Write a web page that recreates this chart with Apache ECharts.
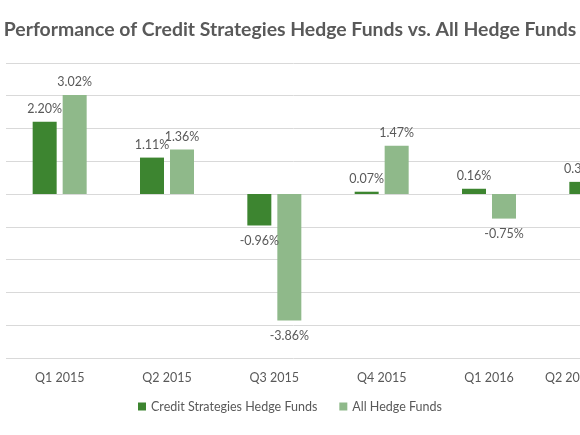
<!DOCTYPE html>
<html lang="en">
<head>
    <meta charset="UTF-8">
    <title>Credit Strategies Hedge Funds</title>
    <style>
        html, body { margin: 0; padding: 0; background: #fff; }
        #chart { width: 580px; height: 435px; }
    </style>
    <script src="https://cdn.jsdelivr.net/npm/echarts@6/dist/echarts.min.js"></script>
</head>
<body>
    <div id="chart"></div>
    <script>
        // 数据
        var quarters = ['Q1 2015', 'Q2 2015', 'Q3 2015', 'Q4 2015', 'Q1 2016', 'Q2 2016'];
        var creditFunds = [2.20, 1.11, -0.96, 0.07, 0.16, 0.37];
        var allFunds = [3.02, 1.36, -3.86, 1.47, -0.75, 2.15];

        var textColor = '#595959';
        var fontName = 'Lato';

        function withLabels(values) {
            return values.map(function (v) {
                return {
                    value: v,
                    label: v < 0 ? {position: 'bottom', distance: 9} : {position: 'top', distance: 6}
                };
            });
        }

        // 最后一个季度的标签在图外被裁掉, 往左挪一点
        var categoryData = quarters.map(function (q, i) {
            if (i === quarters.length - 1) {
                return {value: q, textStyle: {align: 'right', padding: [0, 2, 0, 0]}};
            }
            return q;
        });

        var chart = echarts.init(document.getElementById('chart'), null, {renderer: 'canvas'});
        chart.setOption({
            animation: false,
            title: {
                text: 'Performance of Credit Strategies Hedge Funds vs. All Hedge Funds',
                left: 'center',
                top: 15,
                textStyle: {color: textColor, fontSize: 19.4, fontWeight: 'bold', fontFamily: fontName}
            },
            legend: {
                bottom: 17,
                left: 'center',
                itemWidth: 8,
                itemHeight: 8,
                itemGap: 22,
                icon: 'rect',
                textStyle: {color: textColor, fontSize: 12.5, fontFamily: fontName}
            },
            grid: {left: 6, width: 644, top: 62.8, bottom: 77, outerBoundsMode: 'none', containLabel: false},
            xAxis: {
                type: 'category',
                data: categoryData,
                axisLine: {show: false},
                axisTick: {show: false},
                axisLabel: {color: textColor, fontSize: 12.5, fontFamily: fontName, margin: 13}
            },
            yAxis: {
                type: 'value',
                min: -5,
                max: 4,
                interval: 1,
                axisLabel: {show: false},
                axisLine: {show: false},
                axisTick: {show: false},
                splitLine: {lineStyle: {color: '#d9d9d9', width: 1}}
            },
            series: [
                {
                    name: 'Credit Strategies Hedge Funds',
                    type: 'bar',
                    barWidth: 24,
                    barGap: '25%',
                    itemStyle: {color: '#3d8530'},
                    label: {
                        show: true,
                        color: textColor,
                        fontSize: 12.5,
                        fontFamily: fontName,
                        formatter: function (p) { return p.value.toFixed(2) + '%'; }
                    },
                    data: withLabels(creditFunds)
                },
                {
                    name: 'All Hedge Funds',
                    type: 'bar',
                    barWidth: 24,
                    itemStyle: {color: '#8fb98a'},
                    label: {
                        show: true,
                        color: textColor,
                        fontSize: 12.5,
                        fontFamily: fontName,
                        formatter: function (p) { return p.value.toFixed(2) + '%'; }
                    },
                    data: withLabels(allFunds)
                }
            ]
        });
    </script>
</body>
</html>
